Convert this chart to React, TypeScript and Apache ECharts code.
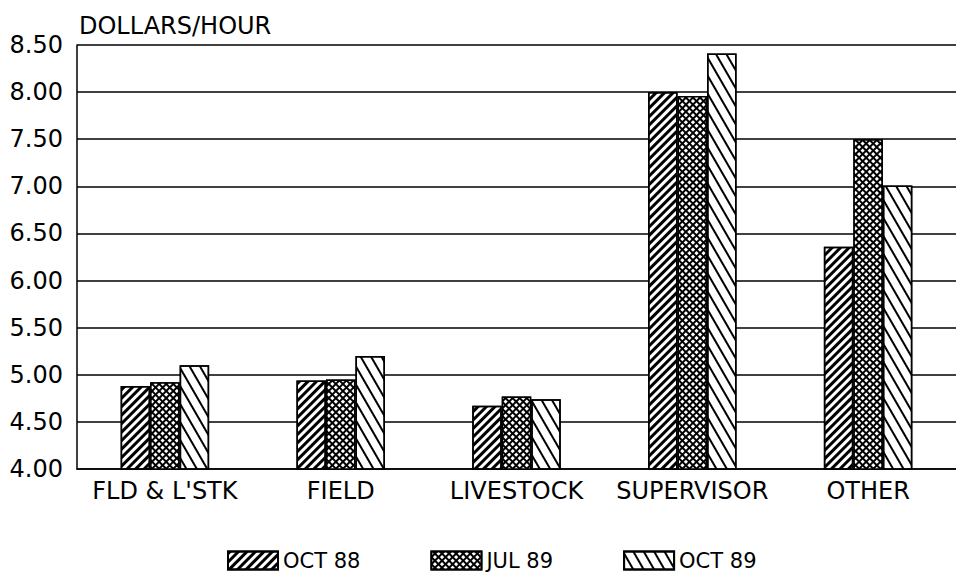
import React, { useEffect, useRef } from "react";
import * as echarts from "echarts";

const categories = ["FLD & L'STK", "FIELD", "LIVESTOCK", "SUPERVISOR", "OTHER"];
const seriesNames = ["OCT 88", "JUL 89", "OCT 89"];
const oct88 = [4.88, 4.94, 4.67, 8.0, 6.36];
const jul89 = [4.92, 4.95, 4.77, 7.96, 7.5];
const oct89 = [5.1, 5.2, 4.74, 8.41, 7.01];
const yMin = 4;
const yMax = 8.5;
const yStep = 0.5;

const FONT = "DejaVu Sans";

export default function App() {
  const ref = useRef<HTMLDivElement>(null);
  useEffect(() => {
    document.body.style.margin = "0";
    if (!ref.current) return;
    const chart = echarts.init(ref.current, undefined, { renderer: "svg" });
    const border = { borderColor: "#000", borderWidth: 1.5 };
    chart.setOption({
      animation: false,
      backgroundColor: "#fff",
      title: {
        text: "DOLLARS/HOUR",
        left: 74,
        top: 9,
        textStyle: { fontFamily: FONT, fontSize: 24, fontWeight: "normal", color: "#000" },
      },
      legend: {
        data: seriesNames,
        bottom: 9,
        left: 222,
        icon: "rect",
        itemWidth: 50,
        itemHeight: 18,
        itemGap: 70,
        textStyle: { fontFamily: FONT, fontSize: 21, color: "#000" },
      },
      grid: { left: 77, top: 45, bottom: 116, width: 885 },
      xAxis: {
        type: "category",
        data: categories,
        axisLine: { lineStyle: { color: "#000", width: 1.5 } },
        axisTick: { show: false },
        axisLabel: {
          interval: 0,
          hideOverlap: false,
          fontFamily: FONT,
          fontSize: 24,
          color: "#000",
          margin: 10,
        },
      },
      yAxis: {
        type: "value",
        min: yMin,
        max: yMax,
        interval: yStep,
        axisLine: { show: true, lineStyle: { color: "#000", width: 1.5 } },
        axisTick: { show: false },
        axisLabel: {
          fontFamily: FONT,
          fontSize: 24,
          color: "#000",
          margin: 14,
          formatter: (v: number) => v.toFixed(2),
        },
        splitLine: { lineStyle: { color: "#000", width: 1.5 } },
      },
      series: [
        {
          name: seriesNames[0],
          type: "bar",
          data: oct88,
          barWidth: 29.5,
          barGap: "0%",
          itemStyle: {
            color: "#fff",
            ...border,
            decal: {
              symbol: "rect",
              symbolSize: 1,
              color: "#000",
              dashArrayX: [1, 0],
              dashArrayY: [3, 3],
              rotation: -Math.PI / 4,
            },
          },
        },
        {
          name: seriesNames[1],
          type: "bar",
          data: jul89,
          barWidth: 29.5,
          barGap: "0%",
          itemStyle: {
            color: "#000",
            ...border,
            decal: {
              symbol: "rect",
              symbolSize: 1,
              color: "#fff",
              dashArrayX: [3, 2],
              dashArrayY: [3, 2],
              rotation: Math.PI / 4,
            },
          },
        },
        {
          name: seriesNames[2],
          type: "bar",
          data: oct89,
          barWidth: 29.5,
          barGap: "0%",
          itemStyle: {
            color: "#fff",
            ...border,
            decal: {
              symbol: "rect",
              symbolSize: 1,
              color: "#000",
              dashArrayX: [1, 0],
              dashArrayY: [2, 7],
              rotation: Math.PI / 3,
            },
          },
        },
      ],
    });
    return () => chart.dispose();
  }, []);
  return <div ref={ref} style={{ width: 956, height: 585 }} />;
}
